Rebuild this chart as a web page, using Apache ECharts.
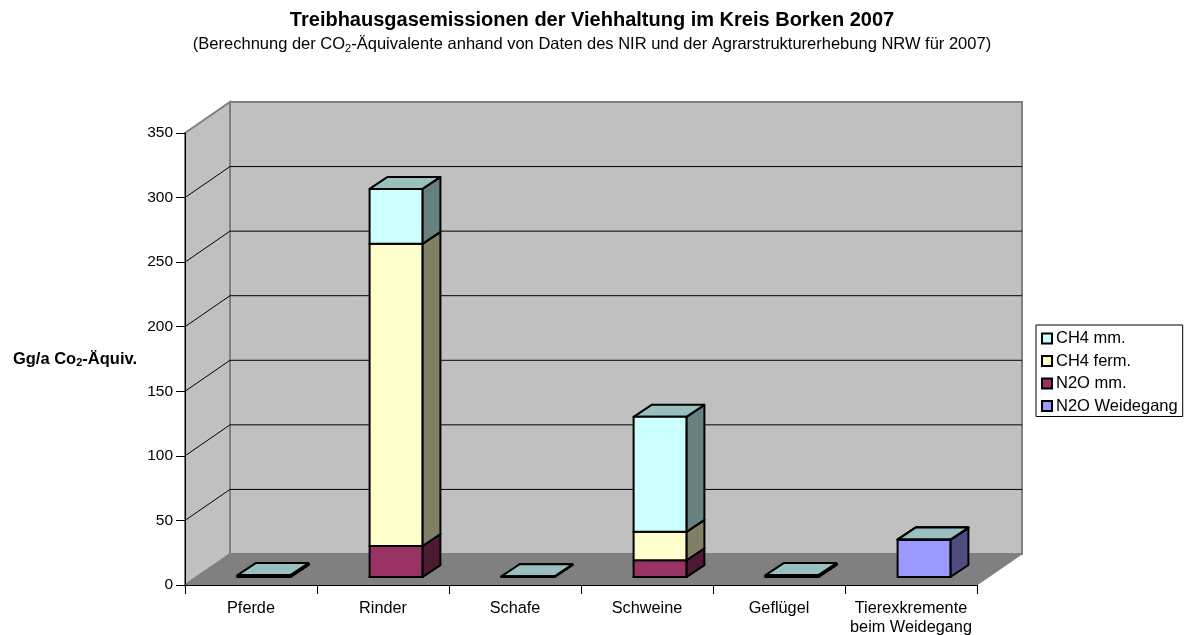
<!DOCTYPE html>
<html><head><meta charset="utf-8">
<style>html,body{margin:0;padding:0;background:#fff}#c{width:1184px;height:635px}</style>
<script src="https://cdn.jsdelivr.net/npm/echarts@6/dist/echarts.min.js"></script></head>
<body><div id="c"></div>
<script>
const categories = ['Pferde','Rinder','Schafe','Schweine','Geflügel','Tierexkremente\nbeim Weidegang'];
const yTicks = [0,50,100,150,200,250,300,350];
const n2oWeidegang = [0,0,0,0,0,29];
const n2oMM = [0.7,24,0.3,13,0.7,0];
const ch4Ferm = [0,234,0,22,0,0];
const ch4MM = [0.8,42.5,0.3,89,0.8,0];

const FONT = '"Liberation Sans", Arial, sans-serif';
const DEPTH = [45,-31];
const BAR = {width:0.4, shift:13, lift:-8, dx:18, dy:-12};

function shade(hex,f){const n=parseInt(hex.slice(1),16);
  const c=[n>>16&255,n>>8&255,n&255].map(v=>Math.round(v*f));
  return 'rgb('+c.join(',')+')';}

function wallItem(params,api){
  const cs=params.coordSys, x0=cs.x, x1=cs.x+cs.width;
  const yb=api.coord([0,0])[1], yt=api.coord([0,350])[1];
  const [dx,dy]=DEPTH; const kids=[];
  const wall={stroke:'#808080',lineWidth:2};
  kids.push({type:'polygon',shape:{points:[[x0+dx,yt+dy],[x1+dx,yt+dy],[x1+dx,yb+dy],[x0+dx,yb+dy]]},style:{fill:'#c0c0c0',...wall}});
  kids.push({type:'polygon',shape:{points:[[x0,yt],[x0+dx,yt+dy],[x0+dx,yb+dy],[x0,yb]]},style:{fill:'#c0c0c0',...wall}});
  kids.push({type:'polygon',shape:{points:[[x0,yb],[x1,yb],[x1+dx,yb+dy],[x0+dx,yb+dy]]},style:{fill:'#808080',stroke:'#808080',lineWidth:1}});
  yTicks.forEach(v=>{ if(v===0||v===350) return;
    const y=api.coord([0,v])[1];
    kids.push({type:'polyline',shape:{points:[[x0,y],[x0+dx,y+dy],[x1+dx,y+dy]]},style:{fill:null,stroke:'#000',lineWidth:1}});
  });
  return {type:'group',children:kids};
}
function wallSeries(){return {type:'custom',name:'walls',z:1,silent:true,clip:false,renderItem:wallItem,data:[[0,0]],encode:{x:0,y:1}};}

const TOP_COLOR = '#CCFFFF';
function barSeries(name,color,values,below){
  const data=values.map((v,i)=>{const base=below.reduce((s,a)=>s+a[i],0);return [i,base,base+v];});
  return {type:'custom',name,z:2,silent:true,clip:false,itemStyle:{color,borderColor:'#000',borderWidth:1},
    encode:{x:0,y:2},data,
    renderItem(params,api){
      const i=api.value(0),a=api.coord([i,api.value(1)]),b=api.coord([i,api.value(2)]);
      const w=api.size([1,0])[0]*BAR.width;
      const l=a[0]+BAR.shift-w/2,r=l+w,yb=a[1]+BAR.lift,yt=b[1]+BAR.lift,dx=BAR.dx,dy=BAR.dy;
      const st={stroke:'#000',lineWidth:2,lineJoin:'round'};
      return {type:'group',children:[
        {type:'polygon',shape:{points:[[r,yb],[r+dx,yb+dy],[r+dx,yt+dy],[r,yt]]},style:{fill:shade(color,0.5),...st}},
        {type:'polygon',shape:{points:[[l,yt],[r,yt],[r+dx,yt+dy],[l+dx,yt+dy]]},style:{fill:shade(TOP_COLOR,0.75),...st}},
        {type:'polygon',shape:{points:[[l,yb],[r,yb],[r,yt],[l,yt]]},style:{fill:color,...st}}
      ]};
    }};
}

const chart=echarts.init(document.getElementById('c'),null,{renderer:'canvas'});
chart.setOption({
  animation:false,
  backgroundColor:'#fff',
  textStyle:{fontFamily:FONT},
  title:{left:592,top:10,textAlign:'center',padding:0,
    text:'Treibhausgasemissionen der Viehhaltung im Kreis Borken 2007',
    textStyle:{fontFamily:FONT,fontSize:20,fontWeight:'bold',color:'#000'},
    subtext:'{m|(Berechnung der CO}{s|2}{m|-Äquivalente anhand von Daten des NIR und der Agrarstrukturerhebung NRW für 2007)}',
    subtextStyle:{fontFamily:FONT,fontSize:16.5,color:'#000',
      rich:{m:{fontFamily:FONT,fontSize:16.5,color:'#000',lineHeight:19,verticalAlign:'middle'},
            s:{fontFamily:FONT,fontSize:11,color:'#000',lineHeight:19,verticalAlign:'bottom'}}},itemGap:5},
  legend:{orient:'vertical',left:1036,top:325,padding:[5,5,2,5],itemWidth:10,itemHeight:10,itemGap:5.5,
    borderColor:'#000',borderWidth:1,backgroundColor:'#fff',
    data:['CH4 mm.','CH4 ferm.','N2O mm.','N2O Weidegang'],icon:'rect',
    textStyle:{fontFamily:FONT,fontSize:16.5,color:'#000',padding:[0,0,0,-1]}},
  grid:{left:185,top:133,width:792,height:452,containLabel:false,outerBoundsMode:'none'},
  xAxis:{type:'category',data:categories,z:5,
    axisLine:{lineStyle:{color:'#000',width:1}},
    axisTick:{show:true,alignWithLabel:false,length:9,lineStyle:{color:'#000'}},
    axisLabel:{fontFamily:FONT,fontSize:16.3,color:'#000',margin:14,lineHeight:19,interval:0},
    splitLine:{show:false}},
  yAxis:{type:'value',min:0,max:350,interval:50,z:5,
    name:'{b|Gg/a Co}{c|2}{b|-Äquiv.}',nameLocation:'middle',nameRotate:0,nameGap:48,
    nameTextStyle:{fontFamily:FONT,fontSize:16.5,fontWeight:'bold',color:'#000',align:'right',verticalAlign:'middle',
      rich:{b:{fontFamily:FONT,fontSize:16.5,fontWeight:'bold',color:'#000',lineHeight:19,verticalAlign:'middle'},
            c:{fontFamily:FONT,fontSize:11,fontWeight:'bold',color:'#000',lineHeight:19,verticalAlign:'bottom'}}},
    axisLine:{show:true,lineStyle:{color:'#000',width:1}},
    axisTick:{show:true,length:9,lineStyle:{color:'#000'}},
    axisLabel:{fontFamily:FONT,fontSize:15.5,color:'#000',margin:12},
    splitLine:{show:false}},
  series:[
    wallSeries(),
    barSeries('N2O Weidegang','#9999FF',n2oWeidegang,[]),
    barSeries('N2O mm.','#993366',n2oMM,[n2oWeidegang]),
    barSeries('CH4 ferm.','#FFFFCC',ch4Ferm,[n2oWeidegang,n2oMM]),
    barSeries('CH4 mm.','#CCFFFF',ch4MM,[n2oWeidegang,n2oMM,ch4Ferm])
  ]
});
</script></body></html>
